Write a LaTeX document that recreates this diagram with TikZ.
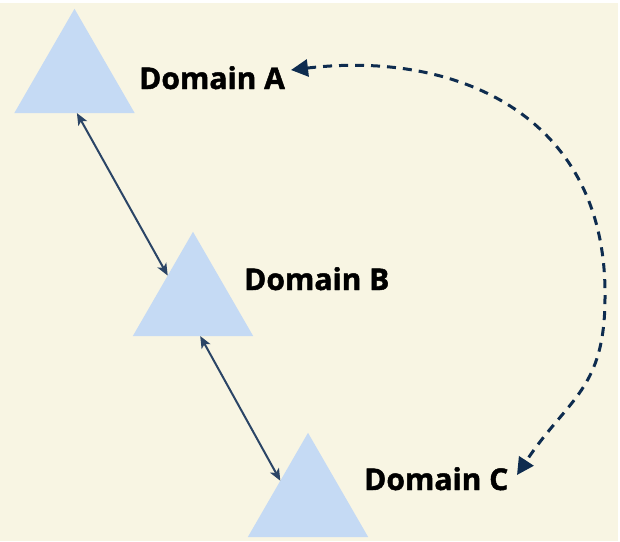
\documentclass[tikz,border=0pt]{standalone}
\usepackage{fontspec}
\setmainfont{Open Sans}
\newfontfamily\labelfont{Open Sans}[BoldFeatures={FakeBold=1.5}]
\usetikzlibrary{arrows.meta,shapes.geometric,calc}
\definecolor{bgbeige}{HTML}{F8F5E3}
\definecolor{trifill}{HTML}{C5DAF4}
\definecolor{solidarrow}{HTML}{2B4566}
\definecolor{dasharrow}{HTML}{0E2C4F}
\begin{document}
\begin{tikzpicture}[x=1pt,y=-1pt,
  domtri/.style={regular polygon, regular polygon sides=3, fill=trifill, draw=none,
    minimum size=139pt, inner sep=0pt, outer sep=0pt},
  domlabel/.style={font=\labelfont\fontsize{30}{36}\selectfont\bfseries, anchor=base west,
    inner sep=0pt, text=black},
  link/.style={draw=solidarrow, line width=2pt,
    {Stealth[length=12pt,width=10pt,inset=3pt]}-{Stealth[length=12pt,width=10pt,inset=3pt]}},
  sync/.style={draw=dasharrow, line width=3pt, dash pattern=on 9pt off 7pt,
    {Triangle[length=17pt,width=17pt]}-{Triangle[length=17pt,width=17pt]}}
]
\useasboundingbox (0,0) rectangle (620,541);
\fill[white] (0,0) rectangle (620,541);
\fill[bgbeige] (0,3) rectangle (618,541);

\node[domtri] (ta) at (74.5,78.3) {};
\node[domtri] (tb) at (193,301.3) {};
\node[domtri] (tc) at (308,502.3) {};

\node[domlabel] (la) at (139,89) {Domain A};
\node[domlabel] (lb) at (244,290) {Domain B};
\node[domlabel] (lc) at (364,490) {Domain C};

\draw[link] ($(ta.corner 2)!0.52!(ta.corner 3)$) -- ($(tb.corner 1)!0.42!(tb.corner 2)$);
\draw[link] ($(tb.corner 2)!0.56!(tb.corner 3)$) -- ($(tc.corner 1)!0.46!(tc.corner 2)$);

\coordinate (ea) at (291,70);
\coordinate (er) at (605,297);
\coordinate (ec) at (517,475);
\draw[sync] (ea) .. controls (460,50) and (607,118) .. (er)
  .. controls (605,390) and (568,398) .. (ec);
\end{tikzpicture}
\end{document}
